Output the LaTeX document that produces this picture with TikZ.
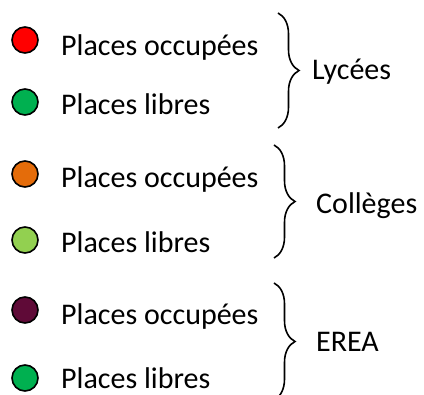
\documentclass[tikz,border=0pt]{standalone}
\usepackage{fontspec}
\setmainfont{Carlito}
\usepackage{xcolor}
\definecolor{occupied}{HTML}{FF0000}
\definecolor{free}{HTML}{00B050}
\definecolor{collorange}{HTML}{E46C0A}
\definecolor{collgreen}{HTML}{92D050}
\definecolor{ereared}{HTML}{5F0A37}
\usetikzlibrary{decorations.pathreplacing}
\usetikzlibrary{positioning}
\tikzset{
	dot/.style={circle, draw=black, line width=1.6pt, minimum size=26pt, inner sep=0pt},
	entry/.style={anchor=base west, inner sep=0pt, font=\fontsize{30}{36}\selectfont},
	group/.style={anchor=base west, inner sep=0pt, font=\fontsize{30}{36}\selectfont},
	bracket/.style={decorate, decoration={brace, amplitude=21pt}, line width=1.6pt}
}

\begin{document}
\begin{tikzpicture}[x=1pt, y=1pt]
	\useasboundingbox (0,0) rectangle (424,-395);
	
	% Lycees
	\node[dot, fill=occupied] (lycOcc) at (25,-40) {};
	\node[dot, fill=free] (lycFree) at (25,-102) {};
	\node[entry] (lycOccText) at (61,-56) {Places occupées};
	\node[entry] (lycFreeText) at (61,-115) {Places libres};
	\coordinate (lycTop) at (278,-13);
	\coordinate (lycBot) at (278,-128);
	\draw[bracket] (lycTop) -- (lycBot);
	\node[group] (lyc) at (312,-80) {Lycées};
	
	% Colleges
	\node[dot, fill=collorange] (colOcc) at (25,-174) {};
	\node[dot, fill=collgreen] (colFree) at (25,-240) {};
	\node[entry] (colOccText) at (61,-188) {Places occupées};
	\node[entry] (colFreeText) at (61,-253) {Places libres};
	\coordinate (colTop) at (274,-145);
	\coordinate (colBot) at (274,-258);
	\draw[bracket] (colTop) -- (colBot);
	\node[group] (col) at (316,-214) {Collèges};
	
	% EREA
	\node[dot, fill=ereared] (ereaOcc) at (25,-310) {};
	\node[dot, fill=free] (ereaFree) at (25,-378) {};
	\node[entry] (ereaOccText) at (61,-325) {Places occupées};
	\node[entry] (ereaFreeText) at (61,-389) {Places libres};
	\coordinate (ereaTop) at (274,-283);
	\coordinate (ereaBot) at (274,-400);
	\draw[bracket] (ereaTop) -- (ereaBot);
	\node[group] (erea) at (316,-352) {EREA};
\end{tikzpicture}
\end{document}
